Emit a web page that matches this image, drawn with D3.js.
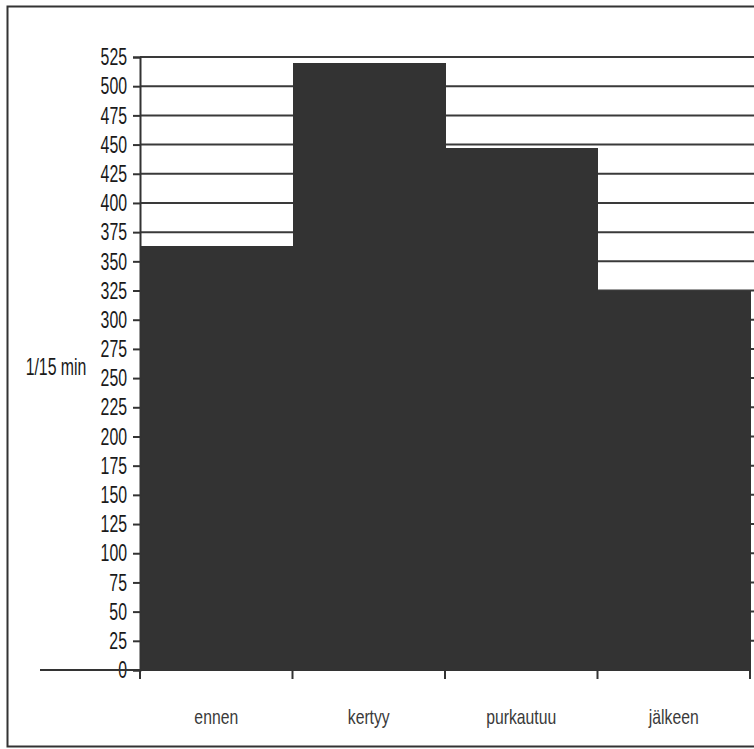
<!DOCTYPE html>
<html>
<head>
<meta charset="utf-8">
<script src="https://cdn.jsdelivr.net/npm/d3@7"></script>
<style>
  html, body { margin: 0; padding: 0; background: #fff; }
  svg { display: block; }
  .tick-label { font-family: "Liberation Sans", Arial, sans-serif; font-size: 24px; fill: #1a1a1a; }
  .cat-label { font-family: "Liberation Sans", Arial, sans-serif; font-size: 21px; fill: #3a3a3a; }
</style>
</head>
<body>
<script>
// Traffic counts per 15 minutes in four phases
const categories = ["ennen", "kertyy", "purkautuu", "jälkeen"];
const values = [363, 520, 447, 325];
const yTicks = d3.range(0, 526, 25);
const yLabel = "1/15 min";

const W = 754, H = 749;
const margin = { left: 140, right: 4, top: 57, bottom: 79 };
const narrow = 0.66;   // horizontal squeeze for the condensed lettering

const svg = d3.select("body").append("svg").attr("width", W).attr("height", H);

// outer frame
svg.append("rect")
  .attr("x", 7.5).attr("y", 6.5)
  .attr("width", W + 10).attr("height", 740)
  .attr("fill", "#fff").attr("stroke", "#333").attr("stroke-width", 2);

const x = d3.scaleBand().domain(categories)
  .range([margin.left, W - margin.right]).padding(0);
const y = d3.scaleLinear().domain([0, 525])
  .range([H - margin.bottom, margin.top]);

// horizontal gridlines
svg.append("g").selectAll("line").data(yTicks.filter(d => d > 0)).join("line")
  .attr("x1", margin.left).attr("x2", W)
  .attr("y1", d => y(d)).attr("y2", d => y(d))
  .attr("stroke", "#3a3a3a").attr("stroke-width", 2);

// bars
svg.append("g").attr("shape-rendering", "crispEdges")
  .selectAll("rect").data(values).join("rect")
  .attr("x", (d, i) => x(categories[i]))
  .attr("width", x.bandwidth() + 0.5)
  .attr("y", d => y(d))
  .attr("height", d => y(0) - y(d))
  .attr("fill", "#333333");

// y axis
const yAxis = svg.append("g")
  .attr("transform", `translate(${margin.left},0)`)
  .call(d3.axisLeft(y).tickValues(yTicks).tickSize(7));
yAxis.select(".domain").attr("stroke", "#333").attr("stroke-width", 2);
yAxis.selectAll(".tick line").attr("stroke", "#333").attr("stroke-width", 2);
yAxis.selectAll(".tick text")
  .attr("class", "tick-label")
  .attr("font-size", null).attr("font-family", null).attr("fill", null)
  .attr("x", 0)
  .attr("transform", `translate(-13,0) scale(${narrow},1)`);

// baseline extending left of the axis
svg.append("line")
  .attr("x1", 40).attr("x2", margin.left)
  .attr("y1", y(0)).attr("y2", y(0))
  .attr("stroke", "#333").attr("stroke-width", 2);

// x axis with ticks at category boundaries
const bounds = categories.map(c => x(c)).concat([x(categories[categories.length - 1]) + x.bandwidth()]);
svg.append("g").selectAll("line").data(bounds).join("line")
  .attr("x1", d => d).attr("x2", d => d)
  .attr("y1", y(0)).attr("y2", y(0) + 9)
  .attr("stroke", "#333").attr("stroke-width", 2);
svg.append("line")
  .attr("x1", margin.left).attr("x2", W - margin.right)
  .attr("y1", y(0)).attr("y2", y(0))
  .attr("stroke", "#333").attr("stroke-width", 2);

svg.append("g").selectAll("text").data(categories).join("text")
  .attr("class", "cat-label")
  .attr("text-anchor", "middle")
  .attr("transform", d => `translate(${x(d) + x.bandwidth() / 2},724) scale(0.75,1)`)
  .text(d => d);

// y axis title
svg.append("text")
  .attr("class", "tick-label")
  .attr("text-anchor", "middle")
  .attr("transform", `translate(56,375) scale(${narrow},1)`)
  .text(yLabel);
</script>
</body>
</html>
